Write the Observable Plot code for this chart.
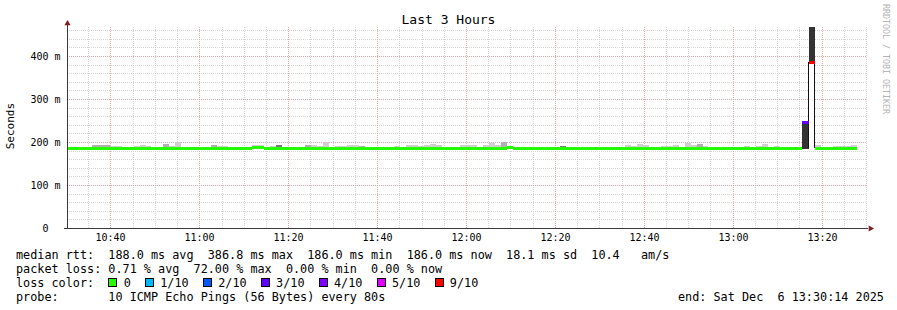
<!DOCTYPE html>
<html><head><meta charset="utf-8">
<script src="https://cdn.jsdelivr.net/npm/d3@7"></script>
<script src="https://cdn.jsdelivr.net/npm/@observablehq/plot@0.6"></script>
<style>
html,body{margin:0;padding:0;background:#fff;}
#wrap{position:relative;width:897px;height:310px;font-family:"DejaVu Sans Mono",monospace;color:#000;overflow:hidden;}
#chart{position:absolute;left:0;top:0;}
#title{position:absolute;left:0;width:897px;top:12px;text-align:center;font-size:13px;line-height:16px;}
#wm{position:absolute;left:881px;top:4px;writing-mode:vertical-rl;font-size:8.3px;color:#b4b4b4;line-height:10px;}
#ylab{position:absolute;left:5px;top:103px;writing-mode:vertical-rl;transform:rotate(180deg);font-size:11px;line-height:12px;}
.leg{position:absolute;left:16px;font-size:11.8px;white-space:pre;line-height:14px;}
.sq{display:inline-block;width:15.3px;height:1px;position:relative;}
.sq i{position:absolute;left:0;bottom:0;width:7px;height:7px;border:1px solid #000;}
</style></head>
<body><div id="wrap">
<div id="chart"></div>
<div id="title"></div>
<div id="wm"></div>
<div id="ylab"></div>
<div class="leg" id="l1" style="top:248px"></div>
<div class="leg" id="l2" style="top:262px"></div>
<div class="leg" id="l3" style="top:276px"></div>
<div class="leg" id="l4" style="top:290px"></div>
<div class="leg" id="lend" style="top:290px;left:678px"></div>
</div>
<script>
// ---- texts ----
const titleText = "Last 3 Hours";
const watermark = "RRDTOOL / TOBI OETIKER";
const yLabel = "Seconds";
const legendMedian = "median rtt:  188.0 ms avg  386.8 ms max  186.0 ms min  186.0 ms now  18.1 ms sd  10.4   am/s";
const legendLoss = "packet loss: 0.71 % avg  72.00 % max  0.00 % min  0.00 % now";
const lossLabels = ["0", "1/10", "2/10", "3/10", "4/10", "5/10", "9/10"];
const lossColors = ["#26ff00", "#00b8ff", "#0059ff", "#5e00ff", "#7e00ff", "#dd00ff", "#ff0000"];
const probeText = "probe:       10 ICMP Echo Pings (56 Bytes) every 80s";
const endText = "end: Sat Dec  6 13:30:14 2025";

// ---- axes ----
const START = "10:30:14";          // window start (last 3 hours)
const SPAN = 180;                   // minutes
const xTickLabels = ["10:40","11:00","11:20","11:40","12:00","12:20","12:40","13:00","13:20"];
const yTickValues = [0, 100, 200, 300, 400];
const yTickLabels = ["0\u00a0\u00a0", "100 m", "200 m", "300 m", "400 m"];
const yMax = 467.4;                 // ms at top of graph

// ---- data (minutes since START) ----
// smoke: [start, end, max rtt ms, shade 0 light / 1 medium / 2 dark]
const smoke = [
  [5.6, 9.7, 193.5, 1], [9.7, 12.4, 191.5, 0], [15.1, 16.4, 191.5, 0], [16.4, 17.8, 193.5, 0],
  [17.8, 18.9, 191.5, 0], [21.6, 23.0, 196, 1], [23.0, 24.3, 191.5, 0], [24.3, 25.7, 200.5, 0],
  [32.4, 33.8, 193.5, 1], [33.8, 36.2, 191.5, 0], [41.6, 44.3, 193.5, 0], [45.7, 47.0, 191.5, 0],
  [47.0, 48.4, 193.5, 2], [53.6, 54.9, 193.5, 1], [54.9, 56.3, 193.5, 0], [56.3, 57.6, 191.5, 0],
  [57.6, 59.0, 199, 0], [60.3, 63.0, 191.5, 0], [63.0, 65.7, 193.5, 0], [65.7, 67.1, 191.5, 1],
  [73.6, 74.9, 191.5, 0], [76.3, 79.0, 193.5, 0], [79.0, 80.3, 191.5, 0], [80.3, 81.7, 193.5, 0],
  [81.7, 83.0, 196, 0], [83.0, 84.4, 193.5, 0], [88.4, 92.3, 193.5, 0], [93.6, 95.0, 193.5, 0],
  [95.0, 96.3, 198, 0], [96.3, 97.7, 193.5, 0], [97.7, 99.0, 200.5, 1], [110.9, 112.3, 191.5, 2],
  [125.6, 126.9, 193.5, 0], [126.9, 128.3, 191.5, 0], [128.3, 129.6, 196, 0], [129.6, 131.0, 193.5, 0],
  [133.7, 136.4, 191.5, 0], [136.4, 137.7, 193.5, 0], [139.1, 140.4, 198, 0], [140.4, 141.8, 193.5, 0],
  [141.8, 143.1, 196, 1], [143.1, 144.2, 191.5, 0], [152.3, 153.7, 191.5, 0], [155.0, 156.4, 191.5, 0],
  [156.4, 157.7, 196, 0], [159.1, 160.4, 191.5, 0], [168.3, 169.7, 193.5, 0], [172.4, 176.4, 191.5, 0],
  [176.4, 177.8, 193.5, 0]
];
const shades = ["#cfcfcf", "#b0b0b0", "#7a7a7a"];
// spike smoke: [start, end, low ms, high ms]
const spikeSmoke = [[165.4, 167.0, 184, 249.5], [167.0, 168.3, 386.8, 480]];
// median rtt: [start, end, ms, loss index]
const median = [
  [0, 41.6, 186, 0], [41.6, 44.3, 188.5, 0], [44.3, 99.0, 186, 0], [99.0, 100.4, 187.5, 0],
  [100.4, 165.4, 186, 0], [165.4, 167.0, 247, 3], [167.0, 168.3, 386.8, 6], [168.3, 177.8, 186, 0]
];
// interval with heavy loss (empty smoke body): [start, end, low ms, high ms]
const lossGap = [[167.0, 168.3, 186, 386.8]];

const toMin = s => { const [h, m, sec = 0] = s.split(":").map(Number); return h * 60 + m + sec / 60; };
const t0 = toMin(START);
const xTicks = xTickLabels.map(l => toMin(l) - t0);
const minorX = d3.range(Math.ceil(t0 / 5) * 5, t0 + SPAN + 0.001, 5).map(m => m - t0);
const minorY = d3.range(20, yMax, 20);

const gridMinor = "#d4d4d4", gridMajor = "#eea0a0", axisColor = "#3a3a3a", arrowColor = "#7f1f1f";

const plot = Plot.plot({
  width: 897, height: 245,
  marginTop: 27, marginLeft: 67, marginRight: 30, marginBottom: 17,
  x: {domain: [0, SPAN], axis: null, round: true},
  y: {domain: [0, yMax], axis: null, round: true},
  color: {type: "identity"},
  style: {fontFamily: "DejaVu Sans Mono, monospace", background: "transparent", overflow: "visible", color: "#000"},
  marks: [
    Plot.ruleX(minorX, {stroke: gridMinor, strokeDasharray: "1,1"}),
    Plot.ruleY(minorY, {stroke: gridMinor, strokeDasharray: "1,1"}),
    Plot.ruleX(xTicks, {stroke: gridMajor, strokeDasharray: "1,1"}),
    Plot.ruleY(yTickValues.slice(1), {stroke: gridMajor, strokeDasharray: "1,1"}),
    Plot.rect(smoke, {x1: d => d[0], x2: d => d[1], y1: 185, y2: d => d[2], fill: d => shades[d[3]]}),
    Plot.rect(spikeSmoke, {x1: d => d[0], x2: d => d[1], y1: d => d[2], y2: d => d[3], fill: "#333333", clip: "frame"}),
    Plot.rect(lossGap, {x1: d => d[0], x2: d => d[1], y1: d => d[2], y2: d => d[3], fill: "#ffffff"}),
    Plot.ruleX(lossGap.flatMap(d => [d[0], d[1]]), {y1: lossGap[0][2], y2: lossGap[0][3], stroke: "#111", dx: -1}),
    Plot.ruleY(median, {y: d => d[2], x1: d => d[0], x2: d => d[1], stroke: d => lossColors[d[3]], strokeWidth: 3}),
    // axes
    Plot.ruleX([0], {stroke: axisColor, insetTop: -3}),
    Plot.ruleY([0], {stroke: axisColor, insetLeft: -3, insetRight: -1}),
    Plot.dot([0], {x: d => d, frameAnchor: "top", dy: -4, symbol: "triangle", r: 2.3, fill: arrowColor, stroke: "none"}),
    Plot.dot([SPAN], {x: d => d, y: 0, dx: 3, symbol: "triangle", rotate: 90, r: 2.3, fill: arrowColor, stroke: "none"}),
    Plot.text(xTicks, {x: d => d, frameAnchor: "bottom", dy: 9, lineAnchor: "middle", text: (d, i) => xTickLabels[i], fontSize: 10}),
    Plot.text(yTickValues, {y: d => d, frameAnchor: "left", dx: -7, textAnchor: "end", text: (d, i) => yTickLabels[i], fontSize: 10})
  ]
});
document.getElementById("chart").appendChild(plot);

document.getElementById("title").textContent = titleText;
document.getElementById("wm").textContent = watermark;
document.getElementById("ylab").textContent = yLabel;
document.getElementById("l1").textContent = legendMedian;
document.getElementById("l2").textContent = legendLoss;
const l3 = document.getElementById("l3");
l3.appendChild(document.createTextNode("loss color:  "));
lossLabels.forEach((lab, i) => {
  const sq = document.createElement("span"); sq.className = "sq";
  const b = document.createElement("i"); b.style.background = lossColors[i]; sq.appendChild(b);
  l3.appendChild(sq);
  l3.appendChild(document.createTextNode(lab + (i < lossLabels.length - 1 ? "  " : "")));
});
document.getElementById("l4").textContent = probeText;
document.getElementById("lend").textContent = endText;
</script>
</body></html>
